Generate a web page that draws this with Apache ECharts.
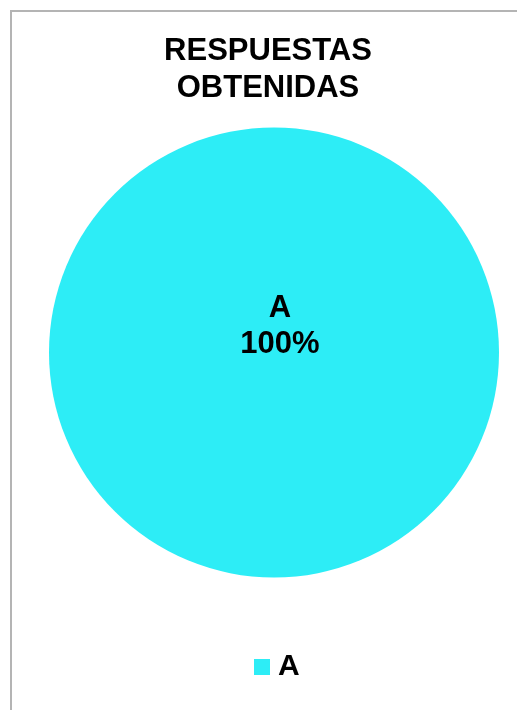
<!DOCTYPE html>
<html>
<head>
<meta charset="utf-8">
<script src="https://cdn.jsdelivr.net/npm/echarts@6/dist/echarts.min.js"></script>
<style>
html,body{margin:0;padding:0;background:#fff;}
#c{width:517px;height:710px;}
</style>
</head>
<body>
<div id="c"></div>
<script>
var titleLines = ['RESPUESTAS', 'OBTENIDAS'];
var categories = ['A'];
var values = [100];
var colors = ['#2DEDF6'];

var FONT = '"Liberation Sans", Arial, sans-serif';
var chart = echarts.init(document.getElementById('c'), null, {renderer: 'canvas'});
var data = categories.map(function (c, i) {
  return {name: c, value: values[i], itemStyle: {color: colors[i]}};
});
chart.setOption({
  animation: false,
  backgroundColor: '#ffffff',
  graphic: [{
    type: 'rect',
    shape: {x: 11, y: 11, width: 700, height: 900},
    style: {fill: 'none', stroke: '#b4b4b4', lineWidth: 2},
    silent: true
  }],
  title: {
    text: titleLines.join('\n'),
    left: 268,
    textAlign: 'center',
    top: 33,
    padding: 0,
    textStyle: {fontFamily: FONT, fontSize: 31, fontWeight: 'bold', color: '#000', lineHeight: 37}
  },
  legend: {
    data: categories,
    left: 254,
    top: 652,
    padding: 0,
    icon: 'rect',
    itemWidth: 16,
    itemHeight: 16,
    itemGap: 10,
    textStyle: {fontFamily: FONT, fontSize: 30, fontWeight: 'bold', color: '#000', lineHeight: 30, padding: [0, 0, 0, 3]},
    selectedMode: false
  },
  series: [{
    type: 'pie',
    center: [274, 352.5],
    radius: [0, 225],
    startAngle: 90,
    data: data,
    silent: true,
    label: {
      show: true,
      position: 'center',
      formatter: '{b}\n{d}%',
      fontFamily: FONT,
      fontSize: 31,
      fontWeight: 'bold',
      color: '#000',
      lineHeight: 36
    },
    labelLayout: {dx: 6, dy: -26},
    labelLine: {show: false},
    emphasis: {disabled: true}
  }]
});
</script>
</body>
</html>
